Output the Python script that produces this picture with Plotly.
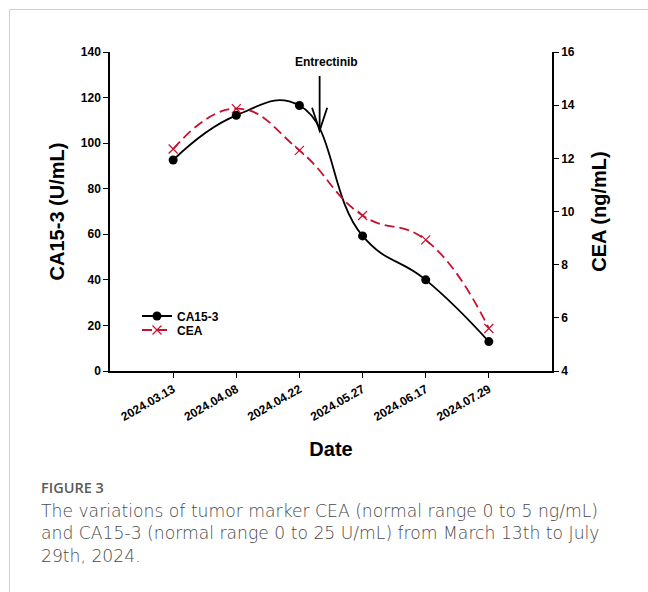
import plotly.graph_objects as go

dates = ["2024.03.13", "2024.04.08", "2024.04.22", "2024.05.27", "2024.06.17", "2024.07.29"]
ca153 = [92.6, 112.2, 116.5, 59.3, 40.0, 12.9]
cea = [12.35, 13.87, 12.3, 9.85, 8.93, 5.6]
arrow_x = 2.32          # position of the Entrectinib start (between 04.22 and 05.27)
arrow_y = [129.5, 105.5]

xpos = list(range(len(dates)))
RED = "#C8102E"
FONT = "Liberation Sans"

fig = go.Figure()
fig.add_trace(go.Scatter(
    x=xpos, y=ca153, name="CA15-3", mode="lines+markers", legend="legend",
    line=dict(color="black", width=1.8, shape="spline", smoothing=1.3),
    marker=dict(symbol="circle", size=9, color="black"),
))
fig.add_trace(go.Scatter(
    x=xpos, y=cea, name="CEA", mode="lines+markers", yaxis="y2", legend="legend2",
    line=dict(color=RED, width=1.8, dash="10px,5px", shape="spline", smoothing=1.3),
    marker=dict(symbol="x-thin", size=9, color=RED, line=dict(color=RED, width=1.2)),
))

L, R, T, B = 110, 96, 52, 221
W, H = 648, 592
pw, ph = W - L - R, H - T - B
def px(x): return (x - L) / pw
def py(y): return (H - B - y) / ph

tickfont = dict(family=FONT, size=12, color="black", weight="bold")
titlefont = dict(family=FONT, size=20, color="black", weight="bold")
legfont = dict(family=FONT, size=12, color="black", weight="bold")

leg_common = dict(x=px(137), xanchor="left", yanchor="middle", font=legfont,
                  bgcolor="rgba(0,0,0,0)", itemwidth=30)

fig.update_layout(
    width=W, height=H, margin=dict(l=L, r=R, t=T, b=B),
    paper_bgcolor="white", plot_bgcolor="white",
    showlegend=True,
    legend=dict(y=py(316), **leg_common),
    legend2=dict(y=py(330), **leg_common),
    xaxis=dict(range=[-1, 6], tickvals=xpos, ticktext=dates, tickangle=-30,
               showgrid=False, zeroline=False, showline=True, linecolor="black", linewidth=1.5,
               ticks="outside", ticklen=5, tickwidth=1.2, tickcolor="black", tickfont=tickfont,
               title=dict(text="Date", font=titlefont, standoff=19)),
    yaxis=dict(range=[0, 140], dtick=20, showgrid=False, zeroline=False, showline=True,
               linecolor="black", linewidth=1.5, ticks="outside", ticklen=5, tickwidth=1.2,
               tickcolor="black", tickfont=tickfont,
               title=dict(text="CA15-3 (U/mL)", font=titlefont, standoff=11)),
    yaxis2=dict(range=[4, 16], dtick=2, overlaying="y", side="right", showgrid=False,
                zeroline=False, showline=True, linecolor="black", linewidth=1.5,
                ticks="outside", ticklen=5, tickwidth=1.2, tickcolor="black", tickfont=tickfont,
                title=dict(text="CEA (ng/mL)", font=titlefont, standoff=18)),
)

# Entrectinib arrow
fig.add_shape(type="line", xref="x", yref="y", x0=arrow_x, x1=arrow_x, y0=arrow_y[0], y1=arrow_y[1],
              line=dict(color="black", width=1.8))
fig.add_shape(type="path", xref="x", yref="y",
              path=f"M {arrow_x-0.12},{arrow_y[1]+10} L {arrow_x},{arrow_y[1]} L {arrow_x+0.12},{arrow_y[1]+10}",
              line=dict(color="black", width=1.8))
fig.add_annotation(x=arrow_x + 0.11, y=135.6, xref="x", yref="y", text="Entrectinib", showarrow=False,
                   font=dict(family=FONT, size=12, color="black", weight="bold"))

# border
fig.add_shape(type="line", xref="paper", yref="paper", x0=px(9.5), x1=px(648), y0=py(9.5), y1=py(9.5),
              line=dict(color="#d0d0d0", width=1))
fig.add_shape(type="line", xref="paper", yref="paper", x0=px(9.5), x1=px(9.5), y0=py(9.5), y1=py(592),
              line=dict(color="#d0d0d0", width=1))

# caption
fig.add_annotation(x=px(39), y=py(487), xref="paper", yref="paper", xanchor="left", yanchor="middle",
                   text="FIGURE 3", showarrow=False,
                   font=dict(family="Open Sans", size=14.5, color="#5a5a5a", weight=600))
caption = ("The variations of tumor marker CEA (normal range 0 to 5 ng/mL)<br>"
           "and CA15-3 (normal range 0 to 25 U/mL) from March 13th to July<br>"
           "29th, 2024.")
fig.add_annotation(x=px(39), y=py(533), xref="paper", yref="paper", xanchor="left",
                   yanchor="middle", align="left", text=caption, showarrow=False,
                   font=dict(family="DejaVu Sans", size=17.2, color="#4a4a4a", weight=200))

fig.write_html("out.html", config={"displayModeBar": False},
               post_script="document.body.style.margin='0';")
